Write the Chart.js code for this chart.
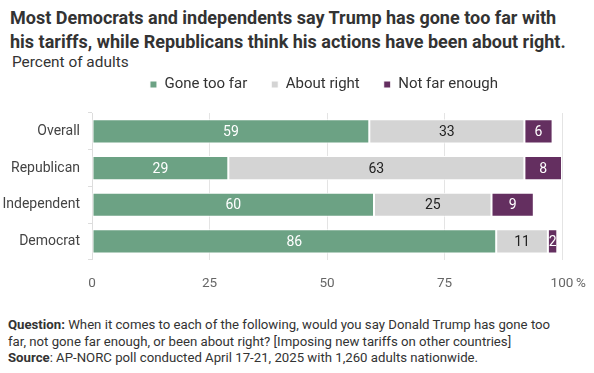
<!DOCTYPE html>
<html>
<head>
<meta charset="utf-8">
<script src="https://cdn.jsdelivr.net/npm/chart.js@4.4.1/dist/chart.umd.min.js"></script>
<style>
  body { margin: 0; width: 594px; height: 373px; background: #fff; font-family: Roboto, sans-serif; color: #333; position: relative; overflow: hidden; }
  #title { position: absolute; left: 10px; top: 6px; width: 562px; font-size: 18px; font-weight: bold; line-height: 24px; color: #333; }
  #sub { position: absolute; left: 12px; top: 53px; font-size: 15.4px; color: #333; }
  #wrap { position: absolute; left: 0; top: 53px; width: 594px; height: 255px; }
  #notes { position: absolute; left: 8px; top: 317px; width: 560px; font-size: 13.2px; line-height: 16.5px; color: #333; }
</style>
</head>
<body>
<div id="title">Most Democrats and independents say Trump has gone too far with his tariffs, while Republicans think his actions have been about right.</div>
<div id="sub">Percent of adults</div>
<div id="wrap"><canvas id="bar-chart"></canvas></div>
<div id="notes"><b>Question:</b> When it comes to each of the following, would you say Donald Trump has gone too far, not gone far enough, or been about right? [Imposing new tariffs on other countries]<br><b>Source</b>: AP-NORC poll conducted April 17-21, 2025 with 1,260 adults nationwide.</div>
<script>
var categorias = ['Overall', 'Republican', 'Independent', 'Democrat'];
var goneTooFar = [59, 29, 60, 86];
var aboutRight = [33, 63, 25, 11];
var notFarEnough = [6, 8, 9, 2];
var xTicks = [0, 25, 50, 75, 100];

var textColors = ['#fff', '#222', '#fff'];
var tickPad = 16;

// numbers inside each segment, plus the % sign after the last tick
var barLabels = {
	id: 'barLabels',
	afterDatasetsDraw: function (chart) {
		let ctx = chart.ctx;
		ctx.save();
		ctx.font = '14px Roboto';
		ctx.textAlign = 'center';
		ctx.textBaseline = 'middle';
		chart.data.datasets.forEach(function (ds, i) {
			chart.getDatasetMeta(i).data.forEach(function (bar, j) {
				let x = (bar.x + bar.base) / 2;
				ctx.fillStyle = textColors[i];
				ctx.fillText(ds.data[j], x, bar.y + 1);
			});
		});
		let sx = chart.scales.x;
		ctx.font = '13.5px Roboto';
		ctx.fillStyle = '#666';
		ctx.textAlign = 'left';
		ctx.fillText('%', sx.getPixelForValue(100) + 14, sx.top + tickPad + 8);
		ctx.restore();
	}
};

// legend sits a bit right of centre and a bit further from the bars
var legendTweak = {
	id: 'legendTweak',
	beforeInit: function (chart) {
		let fit = chart.legend.fit;
		chart.legend.fit = function () {
			fit.bind(chart.legend)();
			this.height += 11;
		};
	},
	afterLayout: function (chart) {
		chart.legend.left += 43;
		chart.legend.right += 43;
	}
};

let ctx = document.getElementById('bar-chart').getContext('2d');
let chart = new Chart(ctx, {
	type: 'bar',
	data: {
		labels: categorias,
		datasets: [
			{ label: 'Gone too far', data: goneTooFar, backgroundColor: '#6ca284' },
			{ label: 'About right', data: aboutRight, backgroundColor: '#d4d4d4' },
			{ label: 'Not far enough', data: notFarEnough, backgroundColor: '#642f60' }
		]
	},
	options: {
		indexAxis: 'y',
		responsive: true,
		maintainAspectRatio: false,
		animation: false,
		layout: { padding: { left: 0, right: 32, top: 0, bottom: 0 } },
		datasets: {
			bar: { borderColor: '#fff', borderWidth: 1, borderSkipped: false, categoryPercentage: 1, barPercentage: 0.66 }
		},
		scales: {
			x: {
				stacked: true,
				min: 0,
				max: 100,
				afterBuildTicks: function (axis) { axis.ticks = xTicks.map(v => ({ value: v })); },
				ticks: {
					color: '#666',
					font: { family: 'Roboto', size: 13.5 },
					padding: tickPad,
					maxRotation: 0
				},
				grid: { color: '#e4e4e4', drawTicks: false },
				border: { display: false }
			},
			y: {
				stacked: true,
				afterFit: function (axis) { axis.width = 92; },
				ticks: { color: '#444', font: { family: 'Roboto', size: 14 }, padding: 8 },
				grid: { offset: true, drawOnChartArea: false, drawTicks: true, tickLength: 4, color: '#ddd' },
				border: { display: true, color: '#ddd' }
			}
		},
		plugins: {
			legend: {
				position: 'top',
				labels: { boxWidth: 7, boxHeight: 7, padding: 24, color: '#333', font: { family: 'Roboto', size: 15 } }
			},
			tooltip: { enabled: false }
		}
	},
	plugins: [barLabels, legendTweak]
});
</script>
</body>
</html>
